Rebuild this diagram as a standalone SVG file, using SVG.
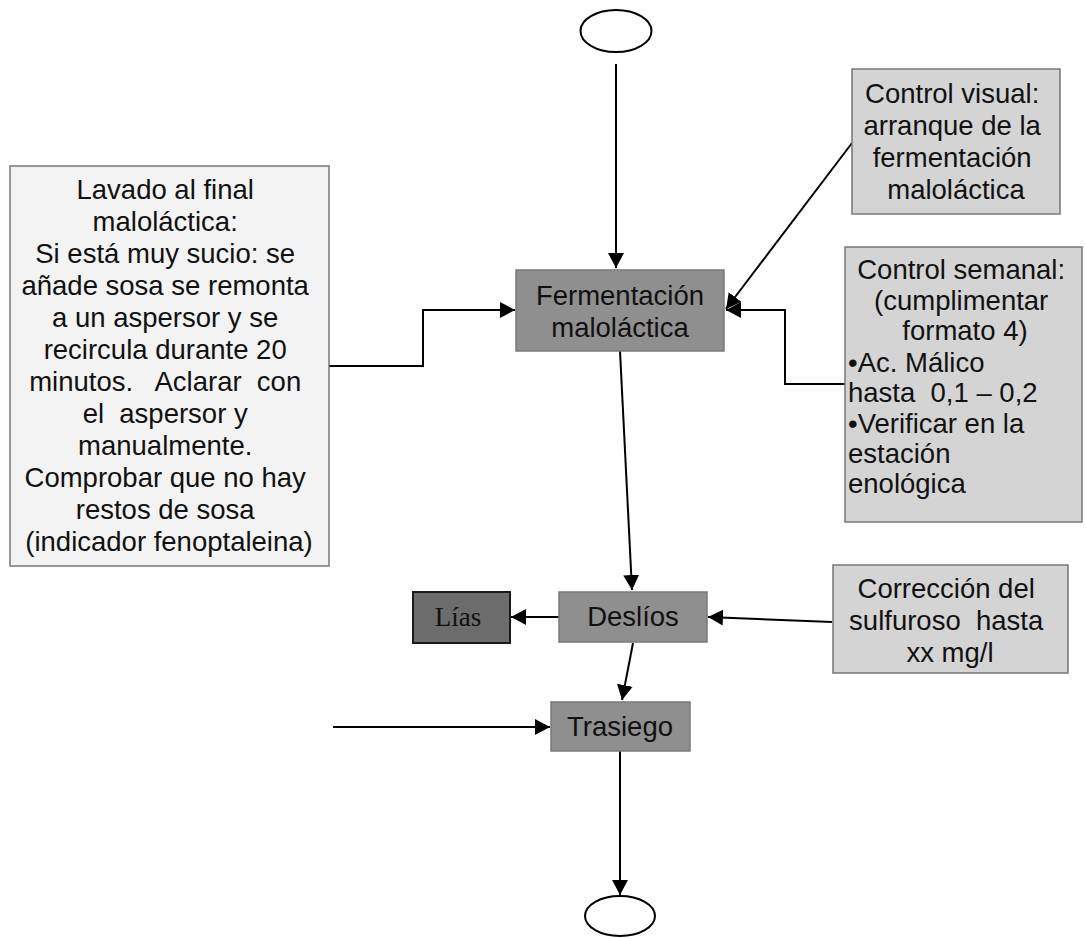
<svg xmlns="http://www.w3.org/2000/svg" width="1086" height="938" viewBox="0 0 1086 938">
  <style>
    .t { font-family: "Liberation Sans", Arial, sans-serif; font-size: 27.5px; fill: #111; }
    .c { text-anchor: middle; }
    .serif { font-family: "Liberation Serif", "Times New Roman", serif; font-size: 27px; fill: #111; text-anchor: middle; }
    .proc { fill: #8f8f8f; stroke: #7a7a7a; stroke-width: 1.5; }
    .note { fill: #d4d4d4; stroke: #777; stroke-width: 1.5; }
    .wash { fill: #f3f3f3; stroke: #777; stroke-width: 1.5; }
    .waste { fill: #6c6c6c; stroke: #1a1a1a; stroke-width: 2; }
    .term { fill: #fff; stroke: #000; stroke-width: 2; }
    .wire { fill: none; stroke: #000; stroke-width: 2; }
  </style>
  <defs>
    <marker id="arrow" markerUnits="userSpaceOnUse" markerWidth="16" markerHeight="16" refX="15" refY="8" orient="auto">
      <path d="M0,0 L15,8 L0,16 Z" fill="#000"/>
    </marker>
  </defs>
  <rect width="1086" height="938" fill="#fff"/>

  <!-- connectors -->
  <g id="connectors">
    <line class="wire" x1="616" y1="64" x2="616" y2="268" marker-end="url(#arrow)"/>
    <polyline class="wire" points="329,366 423,366 423,310 515,310" marker-end="url(#arrow)"/>
    <line class="wire" x1="852" y1="143" x2="726" y2="309" marker-end="url(#arrow)"/>
    <polyline class="wire" points="846,384 785,384 785,310 726,310" marker-end="url(#arrow)"/>
    <line class="wire" x1="620" y1="351" x2="632" y2="590" marker-end="url(#arrow)"/>
    <line class="wire" x1="559" y1="617" x2="511" y2="617" marker-end="url(#arrow)"/>
    <line class="wire" x1="832" y1="622" x2="708" y2="617" marker-end="url(#arrow)"/>
    <line class="wire" x1="633" y1="643" x2="622" y2="700" marker-end="url(#arrow)"/>
    <line class="wire" x1="333" y1="727" x2="550" y2="727" marker-end="url(#arrow)"/>
    <line class="wire" x1="620" y1="751" x2="620" y2="895" marker-end="url(#arrow)"/>
  </g>

  <!-- start / end terminals -->
  <g id="start">
    <ellipse class="term" cx="616" cy="31" rx="35.5" ry="21"/>
  </g>
  <g id="end">
    <ellipse class="term" cx="620" cy="916" rx="35" ry="20"/>
  </g>

  <g id="fermentacion">
    <rect class="proc" x="516" y="270" width="208" height="81"/>
    <text class="t c" x="620" y="305">Fermentación</text>
    <text class="t c" x="620" y="337">maloláctica</text>
  </g>

  <g id="lavado">
    <rect class="wash" x="10" y="166" width="319" height="400"/>
    <text class="t c">
      <tspan x="169" y="199">Lavado al final</tspan>
      <tspan x="169" y="231">maloláctica:</tspan>
      <tspan x="169" y="263">Si está muy sucio: se</tspan>
      <tspan x="169" y="295">añade sosa se remonta</tspan>
      <tspan x="169" y="327">a un aspersor y se</tspan>
      <tspan x="169" y="359">recircula durante 20</tspan>
      <tspan x="169" y="391" xml:space="preserve">minutos.   Aclarar  con</tspan>
      <tspan x="169" y="423" xml:space="preserve">el  aspersor y</tspan>
      <tspan x="169" y="455">manualmente.</tspan>
      <tspan x="169" y="487">Comprobar que no hay</tspan>
      <tspan x="169" y="519">restos de sosa</tspan>
      <tspan x="169" y="551">(indicador fenoptaleina)</tspan>
    </text>
  </g>

  <g id="control-visual">
    <rect class="note" x="852" y="69" width="208" height="145"/>
    <text class="t c">
      <tspan x="956" y="103">Control visual:</tspan>
      <tspan x="956" y="135">arranque de la</tspan>
      <tspan x="956" y="167">fermentación</tspan>
      <tspan x="956" y="199">maloláctica</tspan>
    </text>
  </g>

  <g id="control-semanal">
    <rect class="note" x="845" y="247" width="237" height="275"/>
    <text class="t c">
      <tspan x="965" y="279">Control semanal:</tspan>
      <tspan x="965" y="310">(cumplimentar</tspan>
      <tspan x="965" y="340">formato 4)</tspan>
    </text>
    <text class="t">
      <tspan x="848" y="372">•Ac. Málico</tspan>
      <tspan x="848" y="402" xml:space="preserve">hasta  0,1 – 0,2</tspan>
      <tspan x="848" y="433">•Verificar en la</tspan>
      <tspan x="848" y="463">estación</tspan>
      <tspan x="848" y="493">enológica</tspan>
    </text>
  </g>

  <g id="lias">
    <rect class="waste" x="413" y="592" width="97" height="51"/>
    <text class="serif" x="458" y="626">Lías</text>
  </g>

  <g id="deslios">
    <rect class="proc" x="559" y="592" width="148" height="50"/>
    <text class="t c" x="633" y="626">Deslíos</text>
  </g>

  <g id="correccion">
    <rect class="note" x="833" y="565" width="235" height="108"/>
    <text class="t c">
      <tspan x="950" y="598">Corrección del</tspan>
      <tspan x="950" y="630" xml:space="preserve">sulfuroso  hasta</tspan>
      <tspan x="950" y="662">xx mg/l</tspan>
    </text>
  </g>

  <g id="trasiego">
    <rect class="proc" x="551" y="702" width="139" height="49"/>
    <text class="t c" x="620" y="736">Trasiego</text>
  </g>
</svg>
